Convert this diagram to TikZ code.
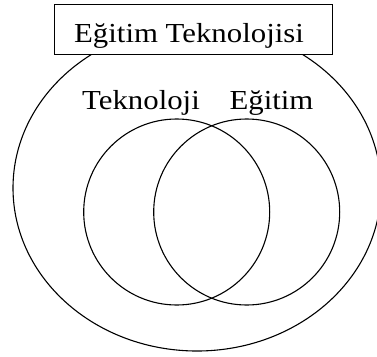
\documentclass[tikz,border=0pt]{standalone}
\usepackage{fontspec}
\setmainfont{Liberation Serif}
\usetikzlibrary{shapes.geometric}
\newcommand{\widetext}[1]{\scalebox{1.12}[1]{#1}}
\begin{document}
\begin{tikzpicture}[x=1pt,y=-1pt,line width=1.1pt,
  lbl/.style={font=\fontsize{27.5}{30}\selectfont, inner sep=0pt, anchor=base},
  setc/.style={circle, draw, inner sep=0pt, minimum size=186pt}]
\useasboundingbox (0,0) rectangle (377,356);
\begin{scope}
\clip (0,0) rectangle (377,356);
\node (outer) [ellipse, draw, inner sep=0pt, minimum width=368pt, minimum height=326pt] at (197,188) {};
\end{scope}
\node (box) [draw, fill=white, line width=1.2pt, inner sep=0pt, minimum width=278pt, minimum height=50pt, anchor=north west] at (54,4) {};
\node (title) [lbl] at (189,42) {\widetext{Eğitim Teknolojisi}};
\node (tek) [lbl] at (141,109) {\widetext{Teknoloji}};
\node (egi) [lbl] at (271.5,109) {\widetext{Eğitim}};
\node (lc) [setc] at (176.7,212) {};
\node (rc) [setc] at (246.7,212) {};
\end{tikzpicture}
\end{document}
